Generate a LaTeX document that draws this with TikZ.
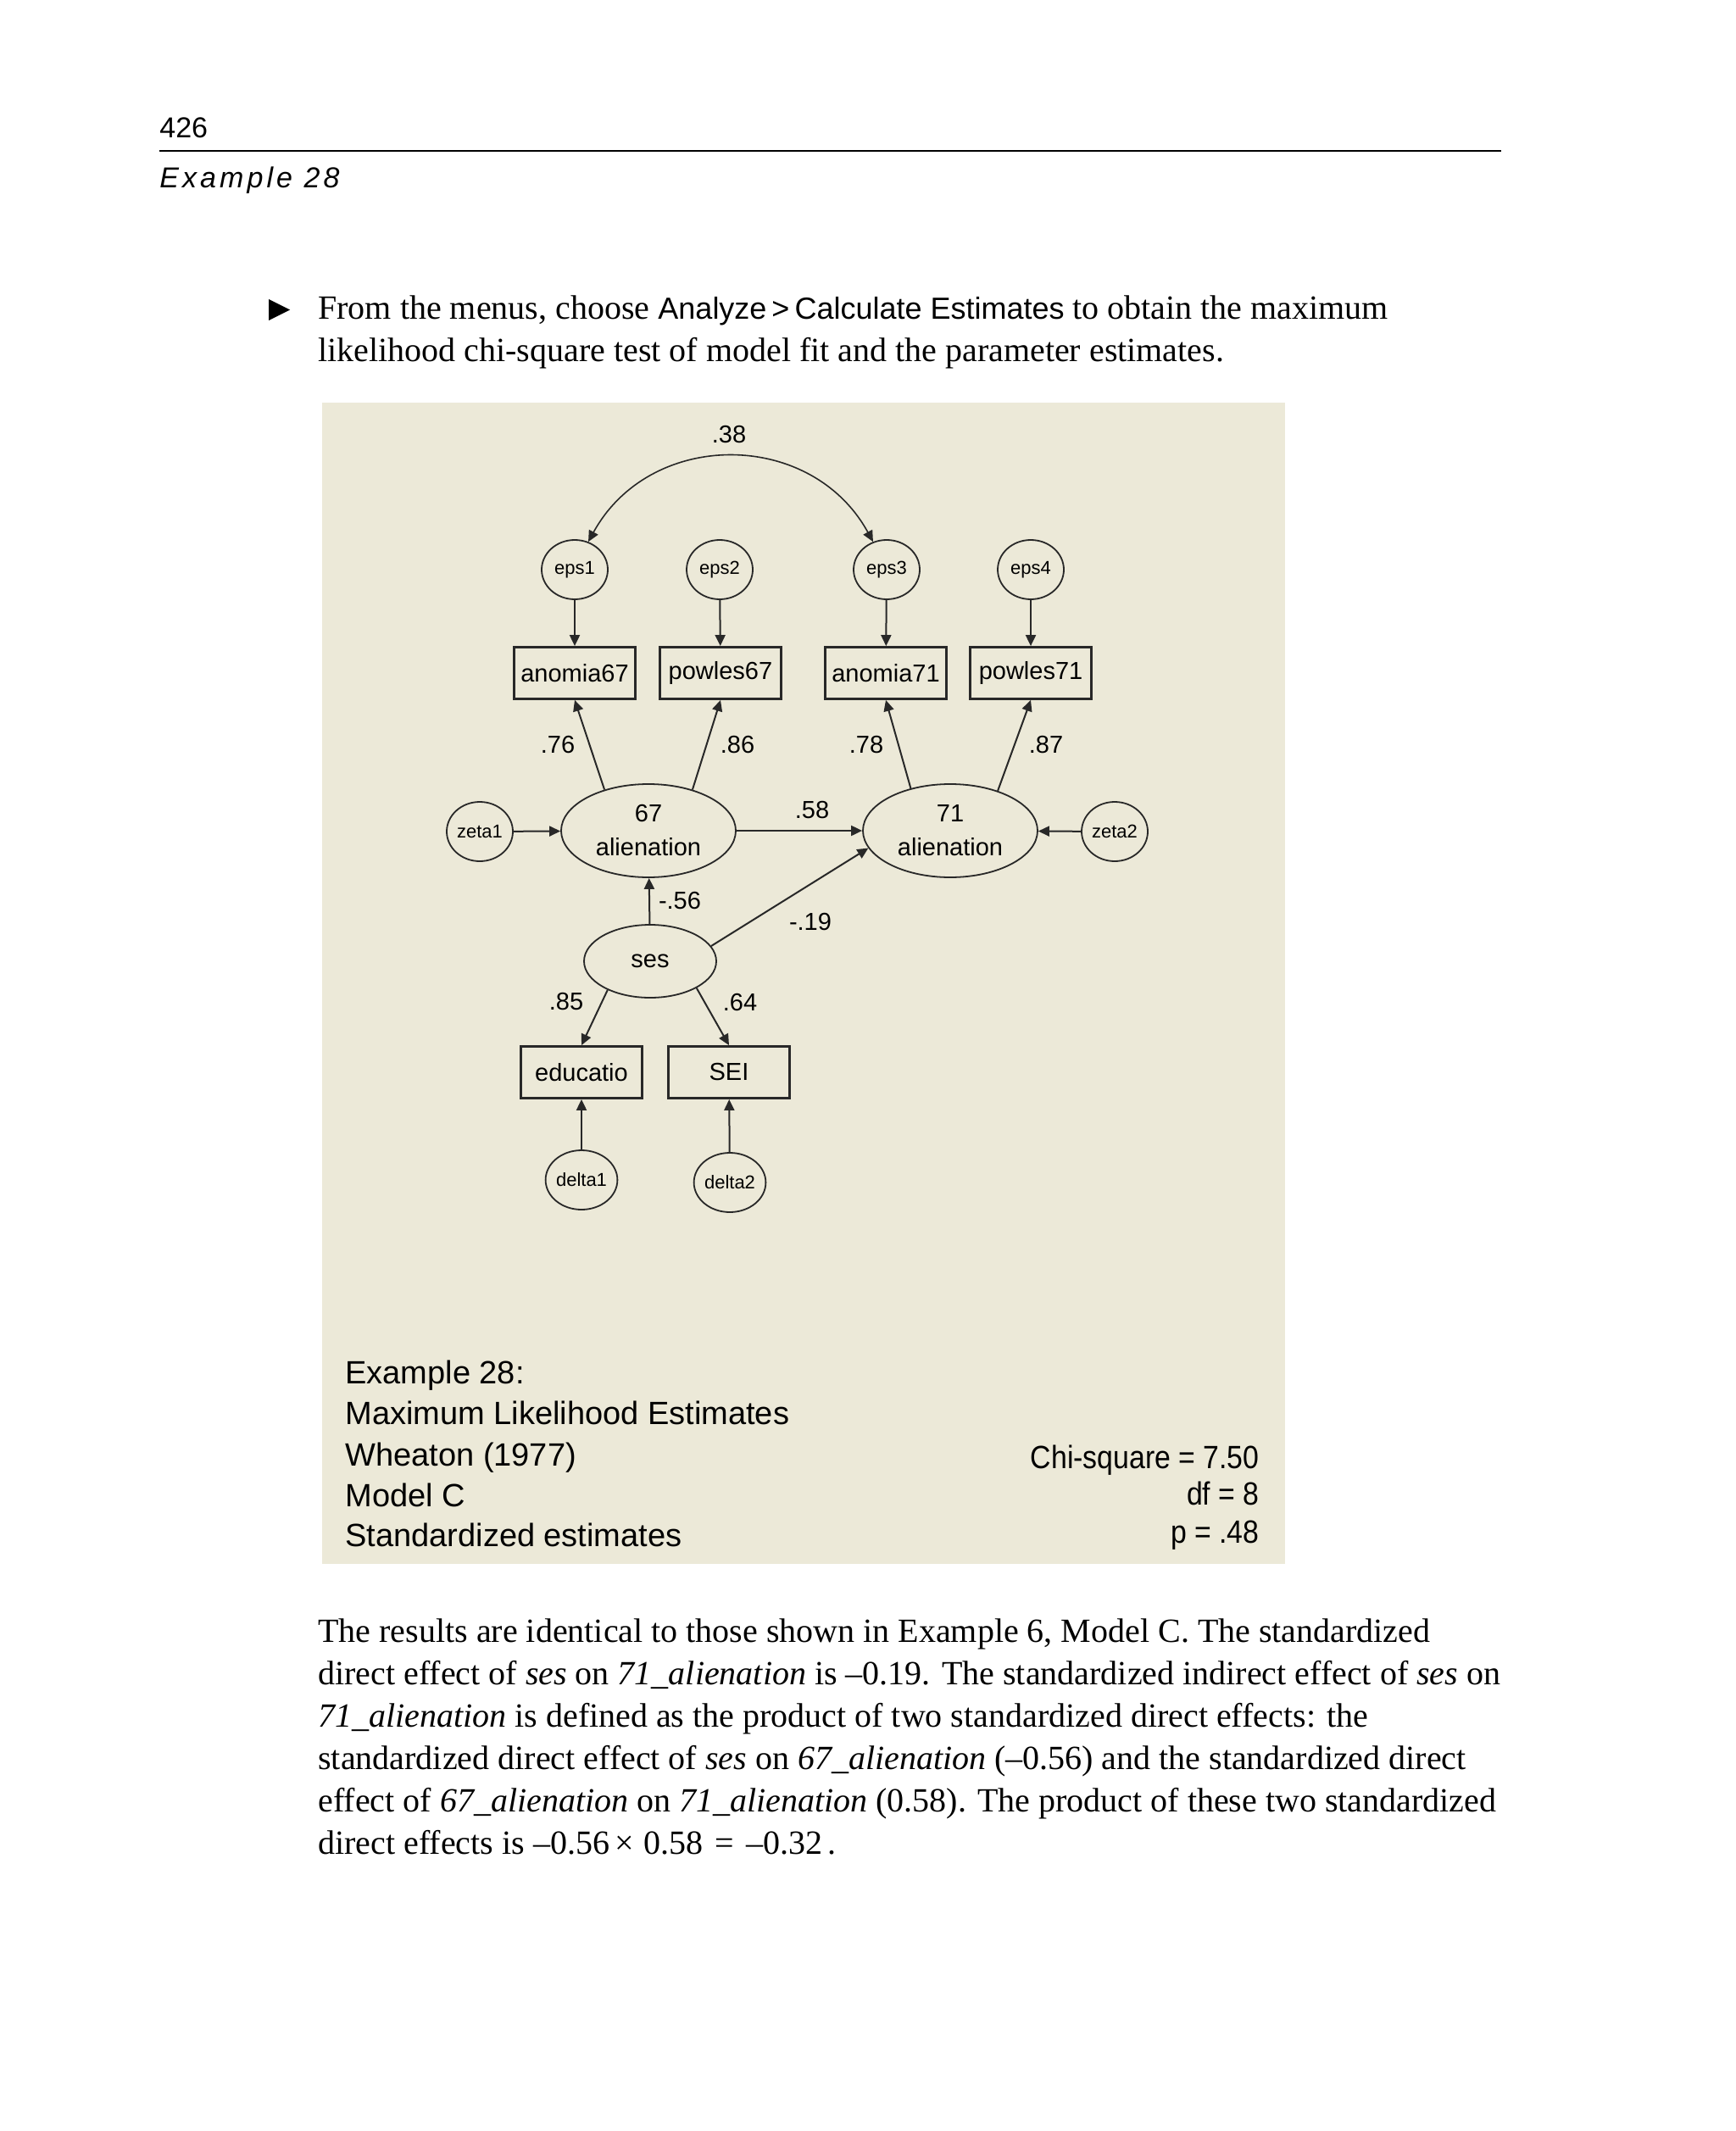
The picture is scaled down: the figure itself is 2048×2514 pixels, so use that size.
\documentclass[tikz,border=0pt]{standalone}
\usepackage{fontspec}
\setmainfont{Liberation Serif}
\newfontfamily\sansf{Liberation Sans}
\newfontfamily\hdrsp[LetterSpace=12]{Liberation Sans}
\usetikzlibrary{arrows.meta,shapes.geometric}
\definecolor{bgc}{RGB}{236,233,216}
\definecolor{lc}{RGB}{40,40,40}
\begin{document}
\begin{tikzpicture}[x=0.5pt,y=-0.5pt,
  lat/.style={ellipse,draw=lc,line width=0.9pt,inner sep=0pt,align=center,
    font=\sansf\fontsize{14.5}{20}\selectfont,minimum width=103pt,minimum height=55pt},
  err/.style={ellipse,draw=lc,line width=0.9pt,inner sep=0pt,
    minimum width=39pt,minimum height=35pt,font=\sansf\fontsize{11}{13}\selectfont},
  obs/.style={rectangle,draw=lc,line width=1.4pt,inner sep=0pt,
    minimum width=71.5pt,minimum height=30.5pt,font=\sansf\fontsize{14.5}{17}\selectfont},
  coef/.style={inner sep=0pt,font=\sansf\fontsize{14.5}{17}\selectfont},
  arr/.style={draw=lc,line width=1pt,-{Triangle[length=6.5pt,width=6pt]}},
  dbl/.style={draw=lc,line width=0.8pt,{Triangle[length=6.5pt,width=6pt]}-{Triangle[length=6.5pt,width=6pt]}},
  body/.style={anchor=base west,inner sep=0pt,font=\fontsize{20}{25}\selectfont},
  foot/.style={inner sep=0pt,font=\sansf\fontsize{19}{24}\selectfont},
  hdr/.style={anchor=base west,inner sep=0pt,font=\sansf\fontsize{17}{20}\selectfont}]
\useasboundingbox (0,0) rectangle (2048,2514);
\fill[white] (0,0) rectangle (2048,2514);
% header
\node[hdr] (pnum) at (188,163) {426};
\draw[line width=0.9pt] (188,178) -- (1771,178);
\node[hdr,font=\hdrsp\itshape\fontsize{17}{20}\selectfont] (chap) at (188,222) {Example 28};
% bullet line
\fill (317,353) -- (342,365.5) -- (317,378) -- cycle;
\node[body] (l1) at (375,377) {From the menus, choose {\sansf\fontsize{18}{20}\selectfont Analyze\,>\,Calculate Estimates} to obtain the maximum};
\node[body] (l2) at (375,427) {likelihood chi-square test of model fit and the parameter estimates.};
% diagram background
\fill[bgc] (380,475) rectangle (1516,1845);
% error terms
\node[err] (eps1) at (678,672) {eps1};
\node[err] (eps2) at (849,672) {eps2};
\node[err] (eps3) at (1046,672) {eps3};
\node[err] (eps4) at (1216,672) {eps4};
% observed
\node[obs] (an67) at (678,794) {anomia67};
\node[obs] (pw67) at (850,794) {powles67};
\node[obs] (an71) at (1045,794) {anomia71};
\node[obs] (pw71) at (1216,794) {powles71};
% latent
\node[lat] (al67) at (765,980) {67\\alienation};
\node[lat] (al71) at (1121,980) {71\\alienation};
\node[err] (zeta1) at (566,981) {zeta1};
\node[err] (zeta2) at (1315,981) {zeta2};
\node[lat,minimum width=78pt,minimum height=43pt] (ses) at (767,1134) {ses};
\node[obs] (edu) at (686,1265) {educatio};
\node[obs] (sei) at (860,1265) {SEI};
\node[err] (delta1) at (686,1392) {delta1};
\node[err] (delta2) at (861,1395) {delta2};
% connectors
\draw[dbl] (eps1.64) .. controls (767,506) and (957,506) .. (eps3.116);
\draw[arr] (eps1) -- (an67);
\draw[arr] (eps2) -- (pw67);
\draw[arr] (eps3) -- (an71);
\draw[arr] (eps4) -- (pw71);
\draw[arr] (al67.137) -- (an67.south);
\draw[arr] (al67.43) -- (pw67.south);
\draw[arr] (al71.133) -- (an71.south);
\draw[arr] (al71.40) -- (pw71.south);
\draw[arr] (zeta1) -- (al67);
\draw[arr] (al67) -- (al71);
\draw[arr] (zeta2) -- (al71);
\draw[arr] (ses) -- (al67);
\draw[arr] (ses.14) -- (al71.192);
\draw[arr] (ses.214) -- (edu.north);
\draw[arr] (ses.330) -- (sei.north);
\draw[arr] (delta1) -- (edu);
\draw[arr] (delta2) -- (sei);
% coefficients
\node[coef] (c38) at (860,513) {.38};
\node[coef] (c76) at (658,879) {.76};
\node[coef] (c86) at (870,879) {.86};
\node[coef] (c78) at (1022,879) {.78};
\node[coef] (c87) at (1234,879) {.87};
\node[coef] (c58) at (958,956) {.58};
\node[coef] (c56) at (802,1063) {-.56};
\node[coef] (c19) at (956,1088) {-.19};
\node[coef] (c85) at (668,1182) {.85};
\node[coef] (c64) at (873,1183) {.64};
% footer of diagram
\node[foot,anchor=base west] (f1) at (407,1632) {Example 28:};
\node[foot,anchor=base west] (f2) at (407,1680) {Maximum Likelihood Estimates};
\node[foot,anchor=base west] (f3) at (407,1729) {Wheaton (1977)};
\node[foot,anchor=base west] (f4) at (407,1777) {Model C};
\node[foot,anchor=base west] (f5) at (407,1824) {Standardized estimates};
\node[foot,anchor=base east] (r1) at (1486,1732) {\scalebox{0.89}[1]{Chi-square = 7.50}};
\node[foot,anchor=base east] (r2) at (1486,1775) {\scalebox{0.89}[1]{df = 8}};
\node[foot,anchor=base east] (r3) at (1486,1820) {\scalebox{0.89}[1]{p = .48}};
% paragraph
\node[body] (p1) at (375,1937) {The results are identical to those shown in Example 6, Model C. The standardized};
\node[body] (p2) at (375,1987) {direct effect of \textit{ses} on \textit{71\_alienation} is –0.19. The standardized indirect effect of \textit{ses} on};
\node[body] (p3) at (375,2037) {\textit{71\_alienation} is defined as the product of two standardized direct effects: the};
\node[body] (p4) at (375,2087) {standardized direct effect of \textit{ses} on \textit{67\_alienation} (–0.56) and the standardized direct};
\node[body] (p5) at (375,2137) {effect of \textit{67\_alienation} on \textit{71\_alienation} (0.58). The product of these two standardized};
\node[body] (p6) at (375,2187) {direct effects is –0.56\hspace{3pt}×\hspace{6pt}0.58\hspace{7pt}=\hspace{7pt}–0.32\hspace{3pt}.};
\end{tikzpicture}
\end{document}
